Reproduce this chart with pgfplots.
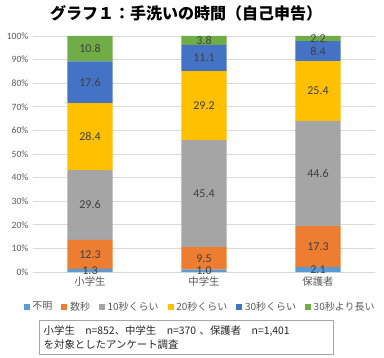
\documentclass[border=0pt]{standalone}
\usepackage{pgfplots}
\pgfplotsset{compat=1.18}
\usepackage{fontspec}
\setmainfont{Noto Sans CJK JP}
\newfontfamily\num{Carlito}
\definecolor{cA}{HTML}{5B9BD5}
\definecolor{cB}{HTML}{ED7D31}
\definecolor{cC}{HTML}{A5A5A5}
\definecolor{cD}{HTML}{FFC000}
\definecolor{cE}{HTML}{4472C4}
\definecolor{cF}{HTML}{70AD47}
\definecolor{gridgray}{HTML}{D9D9D9}
\definecolor{labgray}{HTML}{595959}
\definecolor{valtext}{HTML}{404040}
\definecolor{boxgray}{HTML}{A6A6A6}
\pgfplotsset{
  common/.style={
    at={(24.75pt,63.75pt)}, anchor=south west, scale only axis,
    width=256.5pt, height=177pt,
    xmin=-0.5, xmax=2.5, ymin=0, ymax=100,
  }
}
\begin{document}
\begin{tikzpicture}
\path[use as bounding box] (0,0) rectangle (288pt,267.75pt);
\node[font=\fontsize{12}{14}\selectfont\bfseries, anchor=center] at (139.5pt,258pt) {グラフ１：手洗いの時間（自己申告）};
\begin{axis}[common,
  ybar stacked, bar width=0.395,
  xtick={0,1,2}, xticklabels={小学生,中学生,保護者},
  ytick={0,10,...,100},
  yticklabel={\pgfmathprintnumber{\tick}\%},
  /pgf/number format/assume math mode=true,
  yticklabel style={font=\num\fontsize{7.2}{8}\selectfont, text=labgray},
  xticklabel style={font=\fontsize{7.8}{9}\selectfont, text=labgray},
  ymajorgrids, grid style={draw=gridgray, line width=0.6pt},
  axis line style={draw=none}, tick style={draw=none},
  legend style={at={(0.49,-0.148)}, anchor=center, draw=none, fill=none,
    legend columns=-1, font=\fontsize{7.5}{9}\selectfont, text=labgray,
    /tikz/every even column/.append style={column sep=4.8pt}},
  legend image code/.code={\fill[#1] (0pt,-2.2pt) rectangle (4.4pt,2.2pt);},
]
\addplot[fill=cA, draw=none] coordinates {(0,1.3) (1,1.0) (2,2.1)};
\addplot[fill=cB, draw=none] coordinates {(0,12.3) (1,9.5) (2,17.3)};
\addplot[fill=cC, draw=none] coordinates {(0,29.6) (1,45.4) (2,44.6)};
\addplot[fill=cD, draw=none] coordinates {(0,28.4) (1,29.2) (2,25.4)};
\addplot[fill=cE, draw=none] coordinates {(0,17.6) (1,11.1) (2,8.4)};
\addplot[fill=cF, draw=none] coordinates {(0,10.8) (1,3.8) (2,2.2)};
\legend{不明,数秒,10秒くらい,20秒くらい,30秒くらい,30秒より長い}
\end{axis}
\begin{axis}[common, hide axis, clip=false]
\addplot[draw=none, nodes near coords, point meta=explicit symbolic,
  nodes near coords style={anchor=center, font=\num\fontsize{9}{10}\selectfont, text=valtext, inner sep=0pt}]
  table[meta=lab, row sep=\\] {
  x y lab\\
  0 0.65 1.3\\ 0 7.45 12.3\\ 0 28.4 29.6\\ 0 57.4 28.4\\ 0 80.4 17.6\\ 0 94.6 10.8\\
  1 0.5 1.0\\ 1 5.75 9.5\\ 1 33.2 45.4\\ 1 70.5 29.2\\ 1 90.65 11.1\\ 1 98.1 3.8\\
  2 1.05 2.1\\ 2 10.75 17.3\\ 2 41.7 44.6\\ 2 76.7 25.4\\ 2 93.6 8.4\\ 2 98.9 2.2\\
  };
\end{axis}
\node[draw=boxgray, line width=0.6pt, anchor=north west, minimum width=220.5pt, minimum height=25.5pt,
  text width=214pt, align=left, inner sep=3pt, font=\fontsize{7.8}{11}\selectfont, text=black!85]
  at (29.25pt,27.75pt) {小学生\quad n=852、中学生\quad n=370 、保護者\quad n=1,401\\を対象としたアンケート調査};
\end{tikzpicture}
\end{document}
